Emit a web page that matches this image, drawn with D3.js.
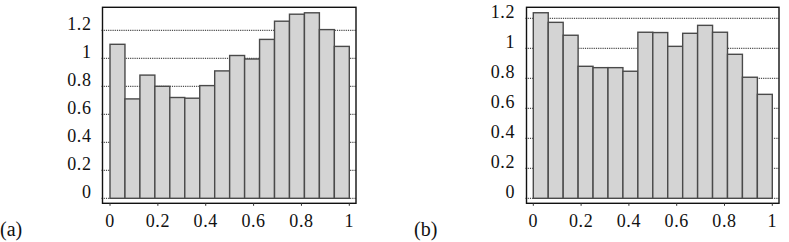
<!DOCTYPE html>
<html>
<head>
<meta charset="utf-8">
<script src="https://cdn.jsdelivr.net/npm/d3@7"></script>
<style>
  body { margin: 0; background: #fff; }
  svg { display: block; }
</style>
</head>
<body>
<svg id="chart" width="789" height="242"></svg>
<script>
// histogram heights, 16 bins on [0,1]
var valuesA = [1.10, 0.71, 0.88, 0.80, 0.72, 0.715, 0.805, 0.91, 1.02, 0.995, 1.135, 1.265, 1.315, 1.325, 1.205, 1.085];
var valuesB = [1.237, 1.173, 1.087, 0.88, 0.871, 0.871, 0.847, 1.107, 1.105, 1.013, 1.10, 1.153, 1.107, 0.96, 0.807, 0.693];
var yTicks = [0, 0.2, 0.4, 0.6, 0.8, 1, 1.2];
var xTicks = [0, 0.2, 0.4, 0.6, 0.8, 1];
var panelLabels = ["(a)", "(b)"];

const svg = d3.select("#chart");
const serif = "Liberation Serif";

// frame / plot geometry for each panel
const panels = [
  { values: valuesA, label: panelLabels[0], frame: [102.5, 356, 7.3, 203.3], xr: [110, 349.3], y0: 198.3, perUnit: 140, labelX: 91.5, tagX: 0 },
  { values: valuesB, label: panelLabels[1], frame: [526.5, 779, 7.3, 203.3], xr: [533.3, 772.3], y0: 198.3, perUnit: 150, labelX: 515, tagX: 414 }
];

panels.forEach(drawPanel);

function drawPanel(p) {
  const g = svg.append("g");
  const [fl, fr, ft, fb] = p.frame;

  const x = d3.scaleLinear().domain([0, 1]).range(p.xr);
  const y = d3.scaleLinear()
    .domain([0, 1])
    .range([p.y0, p.y0 - p.perUnit]);

  const n = p.values.length;
  const bins = p.values.map((v, i) => ({ x0: i / n, x1: (i + 1) / n, v: v }));

  // gridlines (dotted)
  g.selectAll(".grid")
    .data(yTicks)
    .join("line")
    .attr("class", "grid")
    .attr("x1", fl - 1)
    .attr("x2", fr)
    .attr("y1", d => y(d))
    .attr("y2", d => y(d))
    .attr("stroke", "#222")
    .attr("stroke-width", 1)
    .attr("stroke-dasharray", "1.2,1");

  // bars
  g.selectAll(".bar")
    .data(bins)
    .join("rect")
    .attr("class", "bar")
    .attr("x", d => x(d.x0))
    .attr("width", d => x(d.x1) - x(d.x0))
    .attr("y", d => y(d.v))
    .attr("height", d => y(0) - y(d.v))
    .attr("fill", "#d4d4d4")
    .attr("stroke", "#4a4a4a")
    .attr("stroke-width", 1.4);

  // frame
  g.append("rect")
    .attr("x", fl).attr("y", ft)
    .attr("width", fr - fl).attr("height", fb - ft)
    .attr("fill", "none")
    .attr("stroke", "#111")
    .attr("stroke-width", 1.4);

  // y tick labels, baseline on the gridline
  g.selectAll(".ylab")
    .data(yTicks)
    .join("text")
    .attr("class", "ylab")
    .attr("x", p.labelX)
    .attr("y", d => y(d))
    .attr("text-anchor", "end")
    .attr("font-family", serif)
    .attr("font-size", 18)
    .attr("letter-spacing", 0.6)
    .attr("fill", "#111")
    .text(d => d);

  // small x ticks under the frame
  g.selectAll(".xtick")
    .data(xTicks)
    .join("line")
    .attr("class", "xtick")
    .attr("x1", d => x(d)).attr("x2", d => x(d))
    .attr("y1", fb).attr("y2", fb + 2.5)
    .attr("stroke", "#333")
    .attr("stroke-width", 1);

  // x tick labels
  g.selectAll(".xlab")
    .data(xTicks)
    .join("text")
    .attr("class", "xlab")
    .attr("x", d => x(d))
    .attr("y", 227)
    .attr("text-anchor", "middle")
    .attr("font-family", serif)
    .attr("font-size", 18)
    .attr("letter-spacing", 0.6)
    .attr("fill", "#111")
    .text(d => d);

  // panel tag
  g.append("text")
    .attr("x", p.tagX)
    .attr("y", 236)
    .attr("font-family", serif)
    .attr("font-size", 20)
    .attr("fill", "#111")
    .text(p.label);
}
</script>
</body>
</html>
